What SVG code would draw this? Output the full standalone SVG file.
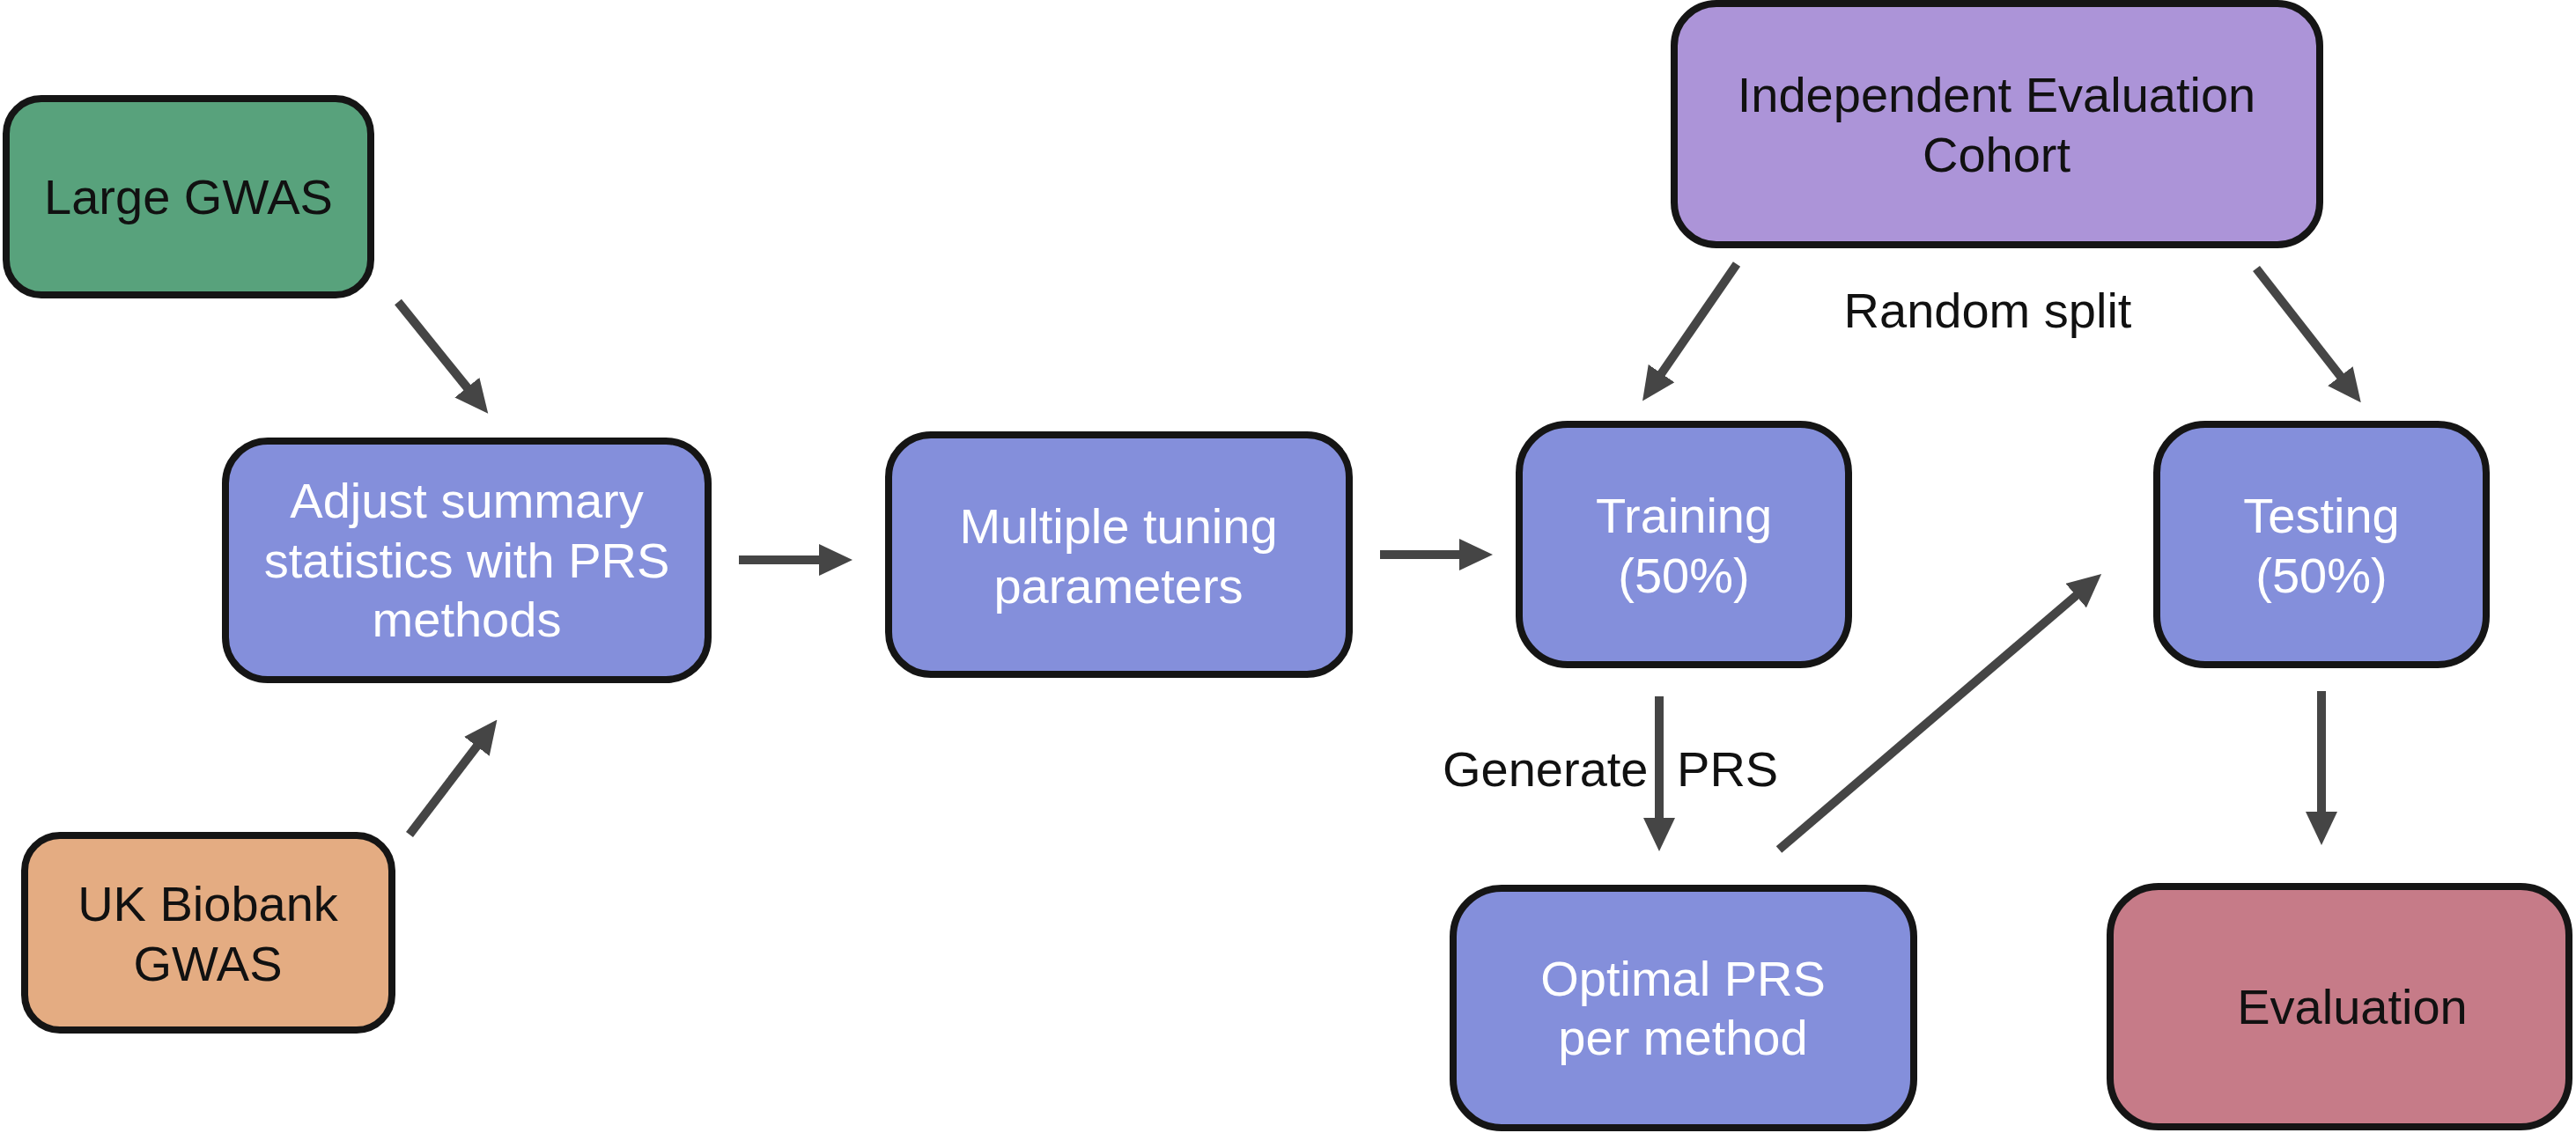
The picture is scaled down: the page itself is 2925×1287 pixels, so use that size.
<svg xmlns="http://www.w3.org/2000/svg" width="2925" height="1287" viewBox="0 0 2925 1287">
<style>
.box{stroke:#151515;stroke-width:8}
.t{font-family:"Liberation Sans",Arial,sans-serif;font-size:56px;text-anchor:middle}
.w{fill:#ffffff}
.k{fill:#111111}
.lbl{font-family:"Liberation Sans",Arial,sans-serif;font-size:56px;fill:#111111}
.c{stroke:#454545;stroke-width:10;fill:none;marker-end:url(#ah)}
</style>
<defs>
<marker id="ah" markerUnits="userSpaceOnUse" markerWidth="38" markerHeight="36" refX="1" refY="18" orient="auto" viewBox="0 0 38 36">
<path d="M0,0 L38,18 L0,36 Z" fill="#454545"/>
</marker>
</defs>
<rect width="2925" height="1287" fill="#ffffff"/>
<g id="connectors">
<line class="c" x1="452" y1="343" x2="531" y2="441"/>
<line class="c" x1="465" y1="948" x2="542" y2="847"/>
<line class="c" x1="839" y1="636" x2="931" y2="636"/>
<line class="c" x1="1567" y1="630" x2="1658" y2="630"/>
<line class="c" x1="1972" y1="300" x2="1886" y2="425"/>
<line class="c" x1="2562" y1="305" x2="2658" y2="428"/>
<line class="c" x1="1884" y1="791" x2="1884" y2="930"/>
<line class="c" x1="2020" y1="965" x2="2358" y2="676"/>
<line class="c" x1="2636" y1="785" x2="2636" y2="923"/>
</g>
<g id="large-gwas">
<rect class="box" x="7" y="112" width="414" height="223" rx="40" fill="#58A27C"/>
<text class="t k" x="214" y="243">Large GWAS</text>
</g>
<g id="uk-biobank">
<rect class="box" x="28" y="949" width="417" height="221" rx="40" fill="#E4AC82"/>
<text class="t k" x="236" y="1046">UK Biobank</text>
<text class="t k" x="236" y="1114">GWAS</text>
</g>
<g id="adjust">
<rect class="box" x="256" y="501" width="548" height="271" rx="48" fill="#848FDB"/>
<text class="t w" x="530" y="588">Adjust summary</text>
<text class="t w" x="530" y="656">statistics with PRS</text>
<text class="t w" x="530" y="723">methods</text>
</g>
<g id="multiple">
<rect class="box" x="1009" y="494" width="523" height="272" rx="48" fill="#848FDB"/>
<text class="t w" x="1270" y="617">Multiple tuning</text>
<text class="t w" x="1270" y="685">parameters</text>
</g>
<g id="independent">
<rect class="box" x="1901" y="4" width="733" height="274" rx="48" fill="#AC94D8"/>
<text class="t k" x="2267" y="127">Independent Evaluation</text>
<text class="t k" x="2267" y="195">Cohort</text>
</g>
<g id="random-split-label">
<text class="t k" x="2257" y="372">Random split</text>
</g>
<g id="training">
<rect class="box" x="1725" y="482" width="374" height="273" rx="55" fill="#848FDB"/>
<text class="t w" x="1912" y="605">Training</text>
<text class="t w" x="1912" y="673">(50%)</text>
</g>
<g id="testing">
<rect class="box" x="2449" y="482" width="374" height="273" rx="55" fill="#848FDB"/>
<text class="t w" x="2636" y="605">Testing</text>
<text class="t w" x="2636" y="673">(50%)</text>
</g>
<g id="generate-label">
<text class="lbl" x="1638" y="893">Generate <tspan dx="17">PRS</tspan></text>
</g>
<g id="optimal">
<rect class="box" x="1650" y="1009" width="523" height="272" rx="55" fill="#848FDB"/>
<text class="t w" x="1911" y="1131">Optimal PRS</text>
<text class="t w" x="1911" y="1198">per method</text>
</g>
<g id="evaluation">
<rect class="box" x="2396" y="1007" width="521" height="273" rx="55" fill="#C67B88"/>
<text class="t k" x="2671" y="1163">Evaluation</text>
</g>
</svg>
